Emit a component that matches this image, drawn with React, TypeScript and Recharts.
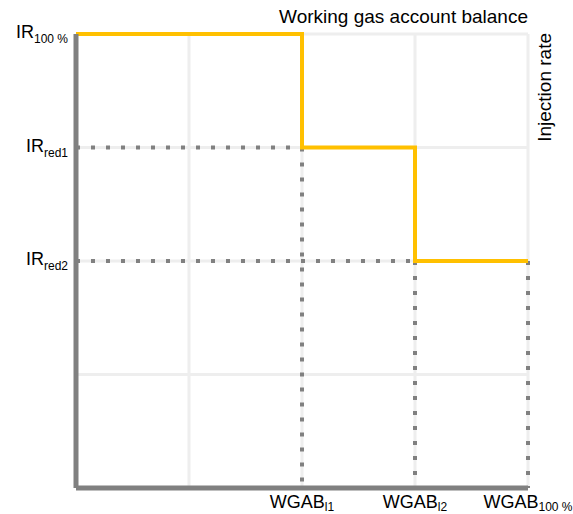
import { LineChart, Line, XAxis, YAxis, CartesianGrid, ReferenceLine } from "recharts";

// step profile: injection rate vs working gas account balance
const WGAB = [0, 2, 3, 4];
const IR = [4, 3, 2, 2];

const GRID_TICKS = [0, 1, 2, 3, 4];
const X_LABELS: Record<number, [string, string]> = {
  2: ["WGAB", "l1"],
  3: ["WGAB", "l2"],
  4: ["WGAB", "100 %"],
};
const Y_LABELS: Record<number, [string, string]> = {
  4: ["IR", "100 %"],
  3: ["IR", "red1"],
  2: ["IR", "red2"],
};

// dotted guide lines (from/to in data units)
const GUIDES = [
  [{ x: 0, y: 3 }, { x: 2, y: 3 }],
  [{ x: 0, y: 2 }, { x: 3, y: 2 }],
  [{ x: 2, y: 3 }, { x: 2, y: 0 }],
  [{ x: 3, y: 2 }, { x: 3, y: 0 }],
  [{ x: 4, y: 2 }, { x: 4, y: 0 }],
];

const data = WGAB.map((x, i) => ({ x, ir: IR[i] }));

const FONT = "'Liberation Sans', Arial, sans-serif";

const XTick = (props: any) => {
  const { x, y, payload } = props;
  const lab = X_LABELS[payload.value];
  if (!lab) return null;
  return (
    <text x={x} y={y + 18} textAnchor="middle" fontFamily={FONT} fontSize={18} fill="#000">
      {lab[0]}
      <tspan fontSize={12} dy={3}>{lab[1]}</tspan>
    </text>
  );
};

const YTick = (props: any) => {
  const { x, y, payload } = props;
  const lab = Y_LABELS[payload.value];
  if (!lab) return null;
  return (
    <text x={x} y={y + 4} textAnchor="end" fontFamily={FONT} fontSize={18} fill="#000">
      {lab[0]}
      <tspan fontSize={12} dy={5}>{lab[1]}</tspan>
    </text>
  );
};

export default function App() {
  return (
    <div style={{ position: "absolute", left: 0, top: 0 }}>
      <LineChart width={573} height={514} data={data} margin={{ top: 34, right: 45, left: 0, bottom: 0 }}>
        <CartesianGrid stroke="#EEEEEE" strokeWidth={3} />
        <XAxis
          type="number"
          dataKey="x"
          domain={[0, 4]}
          ticks={GRID_TICKS}
          height={26}
          tickLine={false}
          tickSize={0}
          axisLine={{ stroke: "#808080", strokeWidth: 5 }}
          tick={<XTick />}
          interval={0}
        />
        <YAxis
          type="number"
          domain={[0, 4]}
          ticks={GRID_TICKS}
          width={76}
          tickLine={false}
          tickSize={0}
          tickMargin={8}
          axisLine={{ stroke: "#808080", strokeWidth: 5 }}
          tick={<YTick />}
          interval={0}
        />
        {GUIDES.map((seg, i) => (
          <ReferenceLine
            key={i}
            segment={seg}
            stroke="#808080"
            strokeWidth={4}
            strokeDasharray="4 11"
          />
        ))}
        <Line
          type="stepAfter"
          dataKey="ir"
          stroke="#FFC000"
          strokeWidth={4}
          dot={false}
          activeDot={false}
          isAnimationActive={false}
        />
        <text x={528} y={23} textAnchor="end" fontFamily={FONT} fontSize={19} fill="#000">
          Working gas account balance
        </text>
        <text
          transform="translate(551,33) rotate(-90)"
          textAnchor="end"
          fontFamily={FONT}
          fontSize={19}
          fill="#000"
        >
          Injection rate
        </text>
      </LineChart>
    </div>
  );
}
